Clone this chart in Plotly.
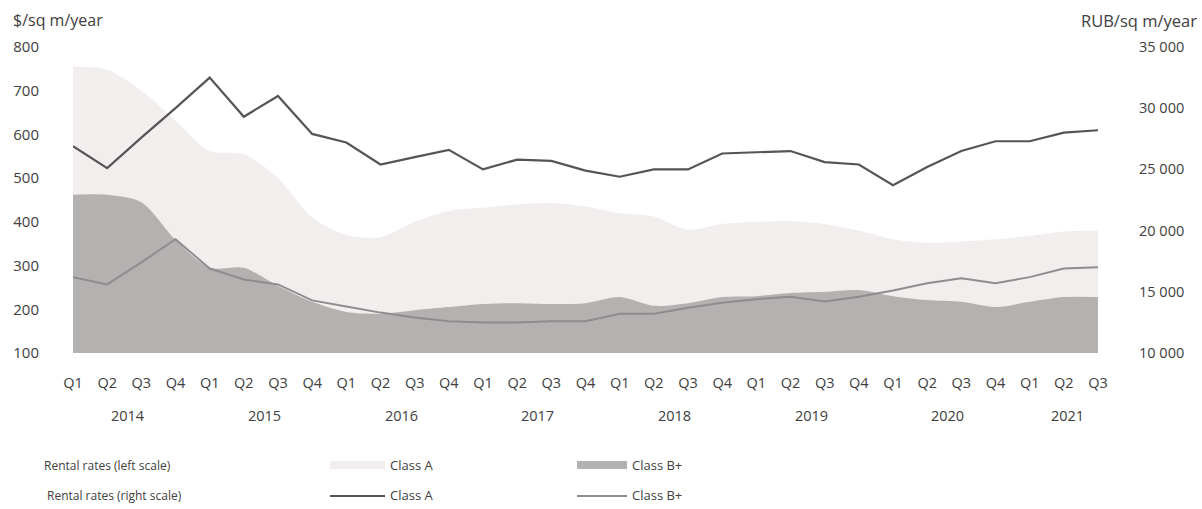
import plotly.graph_objects as go

# Quarterly periods, Q1 2014 .. Q3 2021
quarters = ["Q1", "Q2", "Q3", "Q4"] * 7 + ["Q1", "Q2", "Q3"]
years = ["2014", "2015", "2016", "2017", "2018", "2019", "2020", "2021"]

# Rental rates, $/sq m/year (left scale)
usd_class_a = [755, 748, 700, 632, 562, 555, 500, 410, 370, 365, 400, 425,
               432, 440, 443, 435, 420, 412, 382, 395, 400, 402, 395, 380,
               360, 352, 355, 360, 368, 378, 380]
usd_class_b = [462, 462, 445, 359, 295, 295, 253, 217, 194, 190, 198, 205,
               212, 214, 212, 214, 228, 208, 214, 228, 230, 237, 240, 244,
               230, 221, 217, 205, 217, 228, 228]

# Rental rates, RUB/sq m/year (right scale)
rub_class_a = [26900, 25100, 27600, 30000, 32500, 29300, 31000, 27900, 27200,
               25400, 26000, 26600, 25000, 25800, 25700, 24900, 24400, 25000,
               25000, 26300, 26400, 26500, 25600, 25400, 23700, 25200, 26500,
               27300, 27300, 28000, 28200]
rub_class_b = [16200, 15600, 17400, 19300, 16900, 16000, 15600, 14300, 13800,
               13300, 12900, 12600, 12500, 12500, 12600, 12600, 13200, 13200,
               13700, 14100, 14400, 14600, 14200, 14600, 15100, 15700, 16100,
               15700, 16200, 16900, 17000]

left_ticks = [100, 200, 300, 400, 500, 600, 700, 800]
right_ticks = [10000, 15000, 20000, 25000, 30000, 35000]
right_tick_text = ["10 000", "15 000", "20 000", "25 000", "30 000", "35 000"]

idx = list(range(len(quarters)))

FONT = "Open Sans"
TXT = "#404040"
COL_A_AREA = "#f2eeee"
COL_B_AREA = "#b4b1b1"
COL_A_LINE = "#555555"
COL_B_LINE = "#8e8c8c"

fig = go.Figure()

fig.add_trace(go.Scatter(
    x=idx, y=usd_class_a, mode="lines", line=dict(width=0, shape="spline", smoothing=0.8),
    fill="tozeroy", fillcolor=COL_A_AREA, name="Class A", hoverinfo="skip"))
fig.add_trace(go.Scatter(
    x=idx, y=usd_class_b, mode="lines", line=dict(width=0, shape="spline", smoothing=0.8),
    fill="tozeroy", fillcolor=COL_B_AREA, name="Class B+", hoverinfo="skip"))
fig.add_trace(go.Scatter(
    x=idx, y=rub_class_b, mode="lines", yaxis="y2",
    line=dict(color=COL_B_LINE, width=2), name="Class B+"))
fig.add_trace(go.Scatter(
    x=idx, y=rub_class_a, mode="lines", yaxis="y2",
    line=dict(color=COL_A_LINE, width=2.2), name="Class A"))

W, H = 1202, 509
ML, MR, MT, MB = 73, 104, 47, 156
PW, PH = W - ML - MR, H - MT - MB

fig.update_layout(
    width=W, height=H,
    margin=dict(l=ML, r=MR, t=MT, b=MB, pad=0),
    paper_bgcolor="white", plot_bgcolor="white",
    showlegend=False,
    font=dict(family=FONT, size=14, color=TXT),
    xaxis=dict(range=[0, len(idx) - 1], tickvals=idx, ticktext=quarters,
               showgrid=False, zeroline=False, showline=False, ticks="",
               ticklabelstandoff=19, tickfont=dict(size=14.5)),
    yaxis=dict(range=[100, 800], tickvals=left_ticks, showgrid=False,
               zeroline=False, showline=False, ticks="",
               ticklabelstandoff=33, tickfont=dict(size=15)),
    yaxis2=dict(range=[10000, 35000], tickvals=right_ticks, ticktext=right_tick_text,
                overlaying="y", side="right", showgrid=False, zeroline=False,
                showline=False, ticks="", ticklabelstandoff=40,
                tickfont=dict(size=14.5)),
)


def px(xpix):
    return (xpix - ML) / PW


def py(ypix):
    return (H - MB - ypix) / PH


ann = []
# Axis unit captions
ann.append(dict(text="$/sq m/year", x=px(11), y=py(20), xref="paper", yref="paper",
                xanchor="left", yanchor="middle", showarrow=False, font=dict(size=16)))
ann.append(dict(text="RUB/sq m/year", x=px(1199), y=py(20), xref="paper", yref="paper",
                xanchor="right", yanchor="middle", showarrow=False, font=dict(size=16.5)))

# Year labels centred under their quarters
for i, yr in enumerate(years):
    qs = [j for j in idx if j // 4 == i]
    ann.append(dict(text=yr, x=sum(qs) / len(qs) + 0.1, y=py(415), xref="x", yref="paper",
                    xanchor="center", yanchor="middle", showarrow=False, font=dict(size=14.5)))

# Legend block
legend_rows = [("Rental rates (left scale)", 42, 465), ("Rental rates (right scale)", 45, 495)]
for label, xp, yp in legend_rows:
    ann.append(dict(text=label, x=px(xp), y=py(yp), xref="paper", yref="paper",
                    xanchor="left", yanchor="middle", showarrow=False, font=dict(size=12)))

shapes = []
# area swatches
shapes.append(dict(type="rect", xref="paper", yref="paper", x0=px(330), x1=px(385),
                   y0=py(469), y1=py(461), fillcolor=COL_A_AREA, line=dict(width=0)))
shapes.append(dict(type="rect", xref="paper", yref="paper", x0=px(577), x1=px(627),
                   y0=py(469), y1=py(461), fillcolor=COL_B_AREA, line=dict(width=0)))
# line swatches
shapes.append(dict(type="line", xref="paper", yref="paper", x0=px(330), x1=px(385),
                   y0=py(496), y1=py(496), line=dict(color=COL_A_LINE, width=2.2)))
shapes.append(dict(type="line", xref="paper", yref="paper", x0=px(577), x1=px(627),
                   y0=py(496), y1=py(496), line=dict(color=COL_B_LINE, width=2)))

for txt, xp, yp in [("Class A", 388, 465), ("Class B+", 630, 465),
                    ("Class A", 388, 495), ("Class B+", 630, 495)]:
    ann.append(dict(text=txt, x=px(xp), y=py(yp), xref="paper", yref="paper",
                    xanchor="left", yanchor="middle", showarrow=False, font=dict(size=13)))

fig.update_layout(annotations=ann, shapes=shapes)
fig.write_html("out.html")
